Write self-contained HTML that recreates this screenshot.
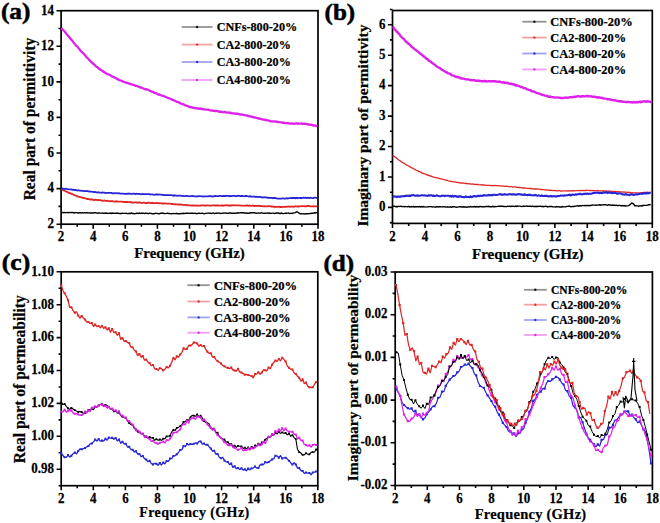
<!DOCTYPE html>
<html><head><meta charset="utf-8"><style>
html,body{margin:0;padding:0;background:#fff;}
svg{display:block;}
text{font-family:"Liberation Serif",serif;font-weight:bold;fill:#000;stroke:#000;stroke-width:0.22px;}
text.big{stroke-width:0.55px;}
</style></head><body>
<svg width="660" height="523" viewBox="0 0 660 523">
<rect width="660" height="523" fill="#fff"/>
<rect x="61.1" y="10.7" width="256.9" height="213.5" fill="none" stroke="#000" stroke-width="1.7"/>
<path d="M61.1 224.2v4.6M93.2 224.2v4.6M125.3 224.2v4.6M157.4 224.2v4.6M189.5 224.2v4.6M221.7 224.2v4.6M253.8 224.2v4.6M285.9 224.2v4.6M318 224.2v4.6M77.2 224.2v2.6M109.3 224.2v2.6M141.4 224.2v2.6M173.5 224.2v2.6M205.6 224.2v2.6M237.7 224.2v2.6M269.8 224.2v2.6M301.9 224.2v2.6M61.1 224.2h-4.6M61.1 188.6h-4.6M61.1 153h-4.6M61.1 117.4h-4.6M61.1 81.9h-4.6M61.1 46.3h-4.6M61.1 10.7h-4.6M61.1 206.4h-2.6M61.1 170.8h-2.6M61.1 135.2h-2.6M61.1 99.7h-2.6M61.1 64.1h-2.6M61.1 28.5h-2.6" stroke="#000" stroke-width="1.6" fill="none"/>
<text transform="translate(53.9,228) scale(1,1.15)" font-size="13" text-anchor="end" >2</text>
<text transform="translate(53.9,192.4) scale(1,1.15)" font-size="13" text-anchor="end" >4</text>
<text transform="translate(53.9,156.8) scale(1,1.15)" font-size="13" text-anchor="end" >6</text>
<text transform="translate(53.9,121.2) scale(1,1.15)" font-size="13" text-anchor="end" >8</text>
<text transform="translate(53.9,85.7) scale(1,1.15)" font-size="13" text-anchor="end" >10</text>
<text transform="translate(53.9,50.1) scale(1,1.15)" font-size="13" text-anchor="end" >12</text>
<text transform="translate(53.9,14.5) scale(1,1.15)" font-size="13" text-anchor="end" >14</text>
<text transform="translate(61.1,241) scale(1,1.15)" font-size="13" text-anchor="middle" >2</text>
<text transform="translate(93.2,241) scale(1,1.15)" font-size="13" text-anchor="middle" >4</text>
<text transform="translate(125.3,241) scale(1,1.15)" font-size="13" text-anchor="middle" >6</text>
<text transform="translate(157.4,241) scale(1,1.15)" font-size="13" text-anchor="middle" >8</text>
<text transform="translate(189.5,241) scale(1,1.15)" font-size="13" text-anchor="middle" >10</text>
<text transform="translate(221.7,241) scale(1,1.15)" font-size="13" text-anchor="middle" >12</text>
<text transform="translate(253.8,241) scale(1,1.15)" font-size="13" text-anchor="middle" >14</text>
<text transform="translate(285.9,241) scale(1,1.15)" font-size="13" text-anchor="middle" >16</text>
<text transform="translate(318,241) scale(1,1.15)" font-size="13" text-anchor="middle" >18</text>
<text transform="translate(189.5,258) scale(1,1.04)" font-size="15" text-anchor="middle" textLength="110.5" lengthAdjust="spacingAndGlyphs">Frequency (GHz)</text>
<text transform="translate(35.4,119.1) rotate(-90)" x="0" y="0" font-size="16" text-anchor="middle" textLength="162.5" lengthAdjust="spacingAndGlyphs">Real part of permittivity</text>
<text x="0.9" y="19.4" font-size="23.8" text-anchor="start" textLength="29.6" lengthAdjust="spacingAndGlyphs" class="big">(a)</text>
<path d="M61.4 212.5L62.4 212.4L63.4 212.7L64.4 212.4L65.4 212.7L66.4 212.6L67.4 212.4L68.4 212.7L69.4 212.4L70.4 212.6L71.4 212.4L72.4 212.5L73.4 212.7L74.4 212.9L75.4 212.5L76.4 212.6L77.4 212.8L78.4 213L79.4 212.8L80.4 212.7L81.4 213.1L82.4 212.6L83.4 213.1L84.4 212.7L85.4 212.7L86.4 212.7L87.4 212.8L88.4 213.1L89.4 212.7L90.4 213L91.4 213L92.4 212.9L93.4 213L94.4 212.7L95.4 212.8L96.4 212.9L97.4 213.2L98.4 213L99.4 213L100.4 213.1L101.4 213.1L102.4 213L103.4 213.3L104.4 213.3L105.4 213L106.4 213.2L107.4 213.2L108.4 213.4L109.4 213.3L110.4 213.1L111.4 213.5L112.4 213L113.4 213.2L114.4 213.4L115.4 213.1L116.4 213.3L117.4 213L118.4 213.4L119.4 213.5L120.4 213.4L121.4 213.5L122.4 213.2L123.4 213.4L124.4 213.4L125.4 213.4L126.4 213.3L127.4 213.6L128.4 213.6L129.4 213.3L130.4 213.5L131.4 213.1L132.4 213.5L133.4 213.5L134.4 213.7L135.4 213.6L136.4 213.3L137.4 213.3L138.4 213.5L139.4 213.1L140.4 213.4L141.4 213.2L142.4 213.2L143.4 213.2L144.4 213.6L145.4 213.2L146.4 213.3L147.4 213.4L148.4 213.7L149.4 213.2L150.4 213.4L151.4 213.5L152.4 213.7L153.4 213.7L154.4 213.7L155.4 213.3L156.4 213.4L157.4 213.4L158.4 213.7L159.4 213.8L160.4 213.3L161.4 213.3L162.4 213.3L163.4 213.3L164.4 213.5L165.4 213.6L166.4 213.4L167.4 213.2L168.4 213.5L169.4 213.4L170.4 213.6L171.4 213.8L172.4 213.6L173.4 213.5L174.4 213.6L175.4 213.6L176.4 213.3L177.4 213.8L178.4 213.7L179.4 213.7L180.4 213.7L181.4 213.5L182.4 213.5L183.4 213.3L184.4 213.6L185.4 213.3L186.4 213.3L187.4 213.3L188.4 213.3L189.4 213.4L190.4 213.2L191.4 213.2L192.4 213.3L193.4 213.3L194.4 213.4L195.4 213.2L196.4 213.7L197.4 213.6L198.4 213.3L199.4 213.3L200.4 213.4L201.4 213.4L202.4 213.2L203.4 213.6L204.4 213.7L205.4 213.4L206.4 213.4L207.4 213.1L208.4 213.1L209.4 213.3L210.4 213.2L211.4 213.5L212.4 213.1L213.4 213L214.4 213.6L215.4 213.3L216.4 213L217.4 213.3L218.4 212.9L219.4 213.2L220.4 213.5L221.4 213.4L222.4 213.3L223.4 213L224.4 213.1L225.4 212.9L226.4 213.3L227.4 213.1L228.4 213.3L229.4 213L230.4 212.9L231.4 213.2L232.4 213.3L233.4 213.2L234.4 213.2L235.4 213.2L236.4 213.1L237.4 212.8L238.4 213L239.4 212.9L240.4 212.7L241.4 212.7L242.4 212.8L243.4 212.8L244.4 213L245.4 213.2L246.4 212.9L247.4 213.2L248.4 213.2L249.4 213.2L250.4 212.8L251.4 212.7L252.4 212.7L253.4 212.7L254.4 212.7L255.4 213L256.4 213.2L257.4 213.1L258.4 212.9L259.4 213.1L260.4 213.2L261.4 212.7L262.4 213.1L263.4 213.3L264.4 213.2L265.4 213.2L266.4 213.1L267.4 212.9L268.4 213.3L269.4 213L270.4 213.3L271.4 213.4L272.4 213.1L273.4 213.1L274.4 213.5L275.4 213.3L276.4 213L277.4 213L278.4 213L279.4 213.5L280.4 213.5L281.4 213.1L282.4 213.5L283.4 213.6L284.4 213.4L285.4 213.2L286.4 213.3L287.4 213.1L288.4 213L289.4 213.6L290.4 213.4L291.4 213.2L292.4 213.4L293.4 212.9L294.4 212.9L295.4 212.6L296.4 212L297.4 212L298.4 212.6L299.4 213.3L300.4 213.9L301.4 213.8L302.4 213.9L303.4 213.7L304.4 214.1L305.4 213.7L306.4 213.7L307.4 213.7L308.4 213.8L309.4 213.4L310.4 213.6L311.4 213.3L312.4 213.2L313.4 213.1L314.4 212.8L315.4 213L316.4 212.8L317.4 212.6" stroke="#000000" stroke-width="1.4" fill="none"/>
<path d="M61.4 189.6L62.4 189.7L63.4 190.3L64.4 190.8L65.4 191.2L66.4 191.5L67.4 192.1L68.4 192.6L69.4 193.1L70.4 193.2L71.4 193.9L72.4 194.2L73.4 194.6L74.4 195.2L75.4 195.5L76.4 195.9L77.4 196.3L78.4 196.7L79.4 196.8L80.4 197.2L81.4 197.4L82.4 197.6L83.4 198L84.4 198.1L85.4 198.4L86.4 198.6L87.4 199L88.4 199L89.4 199.3L90.4 199.5L91.4 199.3L92.4 199.6L93.4 199.9L94.4 200L95.4 199.7L96.4 199.9L97.4 200.1L98.4 200L99.4 200.2L100.4 200.2L101.4 200.6L102.4 200.7L103.4 200.8L104.4 200.5L105.4 200.9L106.4 200.9L107.4 200.7L108.4 201.1L109.4 201.3L110.4 200.9L111.4 201.4L112.4 201.2L113.4 201.3L114.4 201.6L115.4 201.6L116.4 201.3L117.4 201.5L118.4 201.6L119.4 201.6L120.4 201.6L121.4 201.7L122.4 201.9L123.4 201.6L124.4 202L125.4 202L126.4 201.8L127.4 202L128.4 202.2L129.4 202.2L130.4 202L131.4 202.6L132.4 202.5L133.4 202.6L134.4 202.3L135.4 202.4L136.4 202.3L137.4 202.7L138.4 202.5L139.4 202.5L140.4 202.7L141.4 203L142.4 202.9L143.4 202.7L144.4 202.7L145.4 203.1L146.4 202.9L147.4 203L148.4 202.7L149.4 202.7L150.4 203.1L151.4 203L152.4 202.8L153.4 203.3L154.4 203.1L155.4 203.2L156.4 202.9L157.4 203.3L158.4 203L159.4 203.4L160.4 203.3L161.4 203.3L162.4 203.4L163.4 203.7L164.4 203.4L165.4 203.4L166.4 203.7L167.4 203.6L168.4 203.6L169.4 203.7L170.4 203.7L171.4 203.9L172.4 204L173.4 204.1L174.4 204.4L175.4 204.2L176.4 204.4L177.4 204.3L178.4 204.5L179.4 204.4L180.4 204.6L181.4 204.5L182.4 204.9L183.4 204.9L184.4 204.8L185.4 205L186.4 205.3L187.4 205L188.4 205.4L189.4 205.3L190.4 205.3L191.4 205.6L192.4 205.4L193.4 205.5L194.4 205.6L195.4 205.7L196.4 205.4L197.4 205.7L198.4 205.6L199.4 205.6L200.4 205.5L201.4 205.5L202.4 205.3L203.4 205.4L204.4 205.3L205.4 205.7L206.4 205.4L207.4 205.4L208.4 205.3L209.4 205.7L210.4 205.7L211.4 205.6L212.4 205.4L213.4 205.4L214.4 205.4L215.4 205.5L216.4 205.3L217.4 205.5L218.4 205.4L219.4 205.7L220.4 205.7L221.4 205.5L222.4 205.4L223.4 205.7L224.4 205.4L225.4 205.4L226.4 205.2L227.4 205.4L228.4 205.5L229.4 205.5L230.4 205.3L231.4 205.5L232.4 205.2L233.4 205.4L234.4 205.3L235.4 205.4L236.4 205.3L237.4 205.3L238.4 205.4L239.4 205.4L240.4 205.6L241.4 205.6L242.4 205.7L243.4 205.6L244.4 205.7L245.4 205.8L246.4 205.5L247.4 205.5L248.4 205.9L249.4 205.5L250.4 205.8L251.4 205.8L252.4 205.5L253.4 205.9L254.4 206L255.4 205.9L256.4 205.9L257.4 206L258.4 205.7L259.4 205.9L260.4 206L261.4 206.2L262.4 206.2L263.4 206.3L264.4 206.2L265.4 206.4L266.4 206.3L267.4 206.4L268.4 206.2L269.4 206.2L270.4 206.3L271.4 206.5L272.4 206.4L273.4 206.8L274.4 206.7L275.4 206.8L276.4 206.8L277.4 206.9L278.4 206.8L279.4 206.6L280.4 207L281.4 207L282.4 206.9L283.4 206.9L284.4 206.9L285.4 206.6L286.4 206.9L287.4 206.7L288.4 206.5L289.4 206.6L290.4 206.8L291.4 206.5L292.4 206.7L293.4 206.8L294.4 206.5L295.4 206.4L296.4 206.4L297.4 206.5L298.4 206.5L299.4 206.4L300.4 206.4L301.4 206.1L302.4 206.1L303.4 206.2L304.4 206.4L305.4 206.2L306.4 206.3L307.4 206L308.4 206L309.4 206.1L310.4 206.4L311.4 206.4L312.4 206.4L313.4 206.2L314.4 206.3L315.4 206.3L316.4 206.3L317.4 206.1" stroke="#e02424" stroke-width="1.8" fill="none"/>
<path d="M61.4 188.7L62.4 188.4L63.4 188.9L64.4 189L65.4 188.6L66.4 188.9L67.4 189.2L68.4 189.4L69.4 189.3L70.4 189.3L71.4 189.4L72.4 189.9L73.4 189.7L74.4 190L75.4 189.9L76.4 190.2L77.4 190.5L78.4 190.2L79.4 190.7L80.4 190.6L81.4 190.9L82.4 190.9L83.4 190.8L84.4 191.2L85.4 191.1L86.4 191L87.4 191.1L88.4 191.4L89.4 191.5L90.4 191.6L91.4 191.6L92.4 191.8L93.4 191.9L94.4 192.2L95.4 191.9L96.4 192.3L97.4 192.5L98.4 192.2L99.4 192.6L100.4 192.6L101.4 192.8L102.4 192.5L103.4 192.6L104.4 192.7L105.4 193.1L106.4 192.9L107.4 192.8L108.4 192.9L109.4 192.9L110.4 192.8L111.4 192.9L112.4 193.3L113.4 193.1L114.4 193.4L115.4 193.1L116.4 193.2L117.4 193.4L118.4 193.2L119.4 193.4L120.4 193.7L121.4 193.7L122.4 193.7L123.4 193.6L124.4 193.8L125.4 193.8L126.4 193.7L127.4 193.8L128.4 193.5L129.4 193.8L130.4 193.7L131.4 193.9L132.4 193.9L133.4 193.7L134.4 193.6L135.4 194.1L136.4 193.7L137.4 193.9L138.4 193.9L139.4 193.9L140.4 194.1L141.4 194.3L142.4 194L143.4 194.2L144.4 194.1L145.4 194.2L146.4 194.2L147.4 194.1L148.4 194.1L149.4 194.2L150.4 194.6L151.4 194.4L152.4 194.3L153.4 194.7L154.4 194.8L155.4 194.5L156.4 194.4L157.4 194.5L158.4 194.5L159.4 194.7L160.4 194.6L161.4 194.7L162.4 194.8L163.4 195L164.4 195.2L165.4 195.1L166.4 195L167.4 195.1L168.4 195.2L169.4 195.2L170.4 195.2L171.4 195.1L172.4 195.3L173.4 195.7L174.4 195.3L175.4 195.6L176.4 195.7L177.4 195.9L178.4 195.6L179.4 195.7L180.4 195.7L181.4 195.8L182.4 195.9L183.4 196.2L184.4 196.1L185.4 196.2L186.4 195.8L187.4 195.8L188.4 196.2L189.4 196.3L190.4 196.1L191.4 196.2L192.4 195.9L193.4 196.1L194.4 196.4L195.4 196.4L196.4 196.4L197.4 196.5L198.4 196.1L199.4 196.1L200.4 196.1L201.4 196.3L202.4 196.4L203.4 196.5L204.4 196.4L205.4 196.4L206.4 196.4L207.4 196.3L208.4 196.3L209.4 196L210.4 196.4L211.4 196.1L212.4 196.5L213.4 196.3L214.4 196.1L215.4 196L216.4 196.1L217.4 196.2L218.4 196.2L219.4 195.9L220.4 195.9L221.4 196.1L222.4 196.1L223.4 196L224.4 195.9L225.4 196L226.4 195.7L227.4 195.9L228.4 195.9L229.4 196.2L230.4 196L231.4 196.1L232.4 195.9L233.4 195.8L234.4 195.8L235.4 196.1L236.4 196L237.4 195.8L238.4 195.7L239.4 195.9L240.4 196.1L241.4 196L242.4 195.9L243.4 196.2L244.4 196.3L245.4 196L246.4 196L247.4 196.2L248.4 196.3L249.4 196.5L250.4 196.3L251.4 196.7L252.4 196.7L253.4 196.6L254.4 196.5L255.4 197L256.4 196.7L257.4 197L258.4 196.8L259.4 196.9L260.4 197.2L261.4 197.1L262.4 197.5L263.4 197.3L264.4 197.2L265.4 197.3L266.4 197.5L267.4 197.7L268.4 198L269.4 197.6L270.4 197.8L271.4 197.8L272.4 198.3L273.4 198L274.4 198L275.4 198L276.4 198.3L277.4 198.6L278.4 198.6L279.4 198.6L280.4 198.7L281.4 198.7L282.4 198.4L283.4 198.3L284.4 198.7L285.4 198.6L286.4 198.2L287.4 198.5L288.4 198.3L289.4 198.2L290.4 198.2L291.4 198L292.4 197.9L293.4 198L294.4 198L295.4 198.2L296.4 197.8L297.4 198.2L298.4 197.8L299.4 197.8L300.4 198L301.4 198L302.4 197.8L303.4 197.6L304.4 197.8L305.4 197.7L306.4 198L307.4 197.7L308.4 197.8L309.4 198.1L310.4 197.6L311.4 197.9L312.4 198.1L313.4 198.1L314.4 197.7L315.4 197.7L316.4 197.8L317.4 198.2" stroke="#2626d6" stroke-width="1.8" fill="none"/>
<path d="M61.4 27.9L62.4 29.2L63.4 30.3L64.4 31.2L65.4 32.4L66.4 33.9L67.4 35L68.4 36L69.4 37.5L70.4 38.5L71.4 39.7L72.4 40.8L73.4 42.4L74.4 43.6L75.4 44.7L76.4 46L77.4 46.6L78.4 47.9L79.4 49.1L80.4 50.5L81.4 51.6L82.4 52.4L83.4 53.5L84.4 54.6L85.4 55.8L86.4 57.1L87.4 57.8L88.4 59.1L89.4 60.1L90.4 61.2L91.4 62.1L92.4 63L93.4 63.8L94.4 64.7L95.4 65.7L96.4 66.8L97.4 67.2L98.4 68.1L99.4 69.1L100.4 69.6L101.4 70.2L102.4 70.8L103.4 71.7L104.4 72.1L105.4 73L106.4 73.5L107.4 74.1L108.4 74.3L109.4 74.8L110.4 75.3L111.4 76L112.4 76.7L113.4 77L114.4 77.4L115.4 78L116.4 78.6L117.4 79.1L118.4 79.6L119.4 80.1L120.4 80.4L121.4 80.6L122.4 81.4L123.4 81.5L124.4 82L125.4 82.3L126.4 82.8L127.4 82.9L128.4 83.3L129.4 83.6L130.4 83.9L131.4 84.5L132.4 84.7L133.4 84.9L134.4 85.2L135.4 85.8L136.4 85.9L137.4 86.1L138.4 86.7L139.4 87L140.4 87.5L141.4 87.4L142.4 87.9L143.4 88.5L144.4 88.9L145.4 89.3L146.4 89.2L147.4 89.7L148.4 90L149.4 90.4L150.4 91.2L151.4 91.4L152.4 92L153.4 92.2L154.4 92.8L155.4 93L156.4 93.3L157.4 94L158.4 94.5L159.4 94.5L160.4 95.1L161.4 95.5L162.4 95.7L163.4 96.1L164.4 96.4L165.4 96.8L166.4 97.2L167.4 97.8L168.4 98.2L169.4 98.4L170.4 98.7L171.4 99.2L172.4 99.8L173.4 100L174.4 100.5L175.4 100.9L176.4 101.7L177.4 102L178.4 102.2L179.4 102.7L180.4 103.3L181.4 103.8L182.4 104.2L183.4 104.4L184.4 104.8L185.4 105.5L186.4 105.7L187.4 106L188.4 106.3L189.4 107L190.4 106.9L191.4 107.3L192.4 107.5L193.4 107.7L194.4 108.2L195.4 108.4L196.4 108.2L197.4 108.3L198.4 108.7L199.4 108.5L200.4 108.5L201.4 109.1L202.4 109L203.4 109.3L204.4 109.3L205.4 109.7L206.4 109.6L207.4 109.6L208.4 109.7L209.4 110.1L210.4 110.3L211.4 110.6L212.4 110.4L213.4 110.8L214.4 110.8L215.4 111L216.4 111L217.4 111.2L218.4 111.4L219.4 111.7L220.4 111.5L221.4 111.8L222.4 112.1L223.4 112.3L224.4 112L225.4 112.1L226.4 112.6L227.4 112.7L228.4 112.6L229.4 112.5L230.4 113.1L231.4 113L232.4 113.3L233.4 113.3L234.4 113.6L235.4 113.4L236.4 113.8L237.4 113.7L238.4 113.9L239.4 114.3L240.4 114.5L241.4 114.4L242.4 114.6L243.4 114.9L244.4 115.1L245.4 115.3L246.4 115.3L247.4 115.6L248.4 116.1L249.4 116.4L250.4 116.2L251.4 116.7L252.4 117L253.4 116.9L254.4 117.6L255.4 117.5L256.4 118L257.4 118.2L258.4 118.5L259.4 118.5L260.4 118.8L261.4 119.1L262.4 119.3L263.4 119.6L264.4 119.7L265.4 120L266.4 120L267.4 120.5L268.4 120.6L269.4 120.7L270.4 121.1L271.4 121.3L272.4 121.3L273.4 121.3L274.4 121.6L275.4 121.5L276.4 121.7L277.4 122L278.4 121.9L279.4 122.2L280.4 122.4L281.4 122.3L282.4 122.7L283.4 122.5L284.4 123L285.4 123.1L286.4 123.1L287.4 123L288.4 123.3L289.4 123.3L290.4 123.7L291.4 123.3L292.4 123.7L293.4 123.8L294.4 123.6L295.4 123.7L296.4 123.3L297.4 123.7L298.4 123.5L299.4 123.7L300.4 123.7L301.4 123.4L302.4 123.8L303.4 123.9L304.4 123.6L305.4 123.9L306.4 124.2L307.4 124.1L308.4 124.6L309.4 124.5L310.4 124.9L311.4 124.7L312.4 125.1L313.4 125.5L314.4 125.4L315.4 125.6L316.4 126L317.4 126.1" stroke="#de20ea" stroke-width="2.3" fill="none"/>
<path d="M181.7 27H212.5" stroke="#000000" stroke-width="1.8" opacity="0.42"/>
<circle cx="197.1" cy="27" r="1.2" fill="#000000" opacity="0.9"/>
<text x="216.7" y="31.4" font-size="12.2" text-anchor="start" textLength="80.5" lengthAdjust="spacingAndGlyphs">CNFs-800-20%</text>
<path d="M181.7 44.6H212.5" stroke="#e02424" stroke-width="1.8" opacity="0.42"/>
<circle cx="197.1" cy="44.6" r="1.2" fill="#e02424" opacity="0.9"/>
<text x="216.7" y="49" font-size="12.2" text-anchor="start" textLength="74.1" lengthAdjust="spacingAndGlyphs">CA2-800-20%</text>
<path d="M181.7 62H212.5" stroke="#2626d6" stroke-width="1.8" opacity="0.42"/>
<circle cx="197.1" cy="62" r="1.2" fill="#2626d6" opacity="0.9"/>
<text x="216.7" y="66.4" font-size="12.2" text-anchor="start" textLength="74.1" lengthAdjust="spacingAndGlyphs">CA3-800-20%</text>
<path d="M181.7 80H212.5" stroke="#de20ea" stroke-width="1.8" opacity="0.42"/>
<circle cx="197.1" cy="80" r="1.2" fill="#de20ea" opacity="0.9"/>
<text x="216.7" y="84.4" font-size="12.2" text-anchor="start" textLength="74.1" lengthAdjust="spacingAndGlyphs">CA4-800-20%</text>
<rect x="392.5" y="10.5" width="259.8" height="212.9" fill="none" stroke="#000" stroke-width="1.7"/>
<path d="M392.5 223.4v4.6M425 223.4v4.6M457.4 223.4v4.6M489.9 223.4v4.6M522.4 223.4v4.6M554.9 223.4v4.6M587.3 223.4v4.6M619.8 223.4v4.6M652.3 223.4v4.6M408.7 223.4v2.6M441.2 223.4v2.6M473.7 223.4v2.6M506.2 223.4v2.6M538.6 223.4v2.6M571.1 223.4v2.6M603.6 223.4v2.6M636.1 223.4v2.6M392.5 207.4h-4.6M392.5 177h-4.6M392.5 146.5h-4.6M392.5 116.1h-4.6M392.5 85.6h-4.6M392.5 55.2h-4.6M392.5 24.7h-4.6M392.5 222.6h-2.6M392.5 192.2h-2.6M392.5 161.7h-2.6M392.5 131.3h-2.6M392.5 100.8h-2.6M392.5 70.4h-2.6M392.5 39.9h-2.6M392.5 9.5h-2.6" stroke="#000" stroke-width="1.6" fill="none"/>
<text transform="translate(385.4,211.2) scale(1,1.15)" font-size="13" text-anchor="end" >0</text>
<text transform="translate(385.4,180.8) scale(1,1.15)" font-size="13" text-anchor="end" >1</text>
<text transform="translate(385.4,150.3) scale(1,1.15)" font-size="13" text-anchor="end" >2</text>
<text transform="translate(385.4,119.9) scale(1,1.15)" font-size="13" text-anchor="end" >3</text>
<text transform="translate(385.4,89.4) scale(1,1.15)" font-size="13" text-anchor="end" >4</text>
<text transform="translate(385.4,59) scale(1,1.15)" font-size="13" text-anchor="end" >5</text>
<text transform="translate(385.4,28.5) scale(1,1.15)" font-size="13" text-anchor="end" >6</text>
<text transform="translate(392.5,240.6) scale(1,1.15)" font-size="13" text-anchor="middle" >2</text>
<text transform="translate(425,240.6) scale(1,1.15)" font-size="13" text-anchor="middle" >4</text>
<text transform="translate(457.4,240.6) scale(1,1.15)" font-size="13" text-anchor="middle" >6</text>
<text transform="translate(489.9,240.6) scale(1,1.15)" font-size="13" text-anchor="middle" >8</text>
<text transform="translate(522.4,240.6) scale(1,1.15)" font-size="13" text-anchor="middle" >10</text>
<text transform="translate(554.9,240.6) scale(1,1.15)" font-size="13" text-anchor="middle" >12</text>
<text transform="translate(587.3,240.6) scale(1,1.15)" font-size="13" text-anchor="middle" >14</text>
<text transform="translate(619.8,240.6) scale(1,1.15)" font-size="13" text-anchor="middle" >16</text>
<text transform="translate(652.3,240.6) scale(1,1.15)" font-size="13" text-anchor="middle" >18</text>
<text transform="translate(527.8,259.4) scale(1,1.04)" font-size="15" text-anchor="middle" textLength="111.5" lengthAdjust="spacingAndGlyphs">Frequency (GHz)</text>
<text transform="translate(367.6,125.6) rotate(-90)" x="0" y="0" font-size="15.5" text-anchor="middle" textLength="202" lengthAdjust="spacingAndGlyphs">Imaginary part of permittivity</text>
<text x="324.6" y="20" font-size="23.8" text-anchor="start" textLength="30.6" lengthAdjust="spacingAndGlyphs" class="big">(b)</text>
<path d="M392.7 206.1L393.7 206.2L394.7 206.2L395.7 206.7L396.7 206.5L397.7 206.7L398.7 206.2L399.7 206.6L400.7 206.2L401.7 206.5L402.7 206.6L403.7 206.4L404.7 206.7L405.7 206.6L406.7 206.6L407.7 206.8L408.7 206.3L409.7 206.9L410.7 206.7L411.7 206.5L412.7 206.8L413.7 206.5L414.7 206.9L415.7 206.7L416.7 206.6L417.7 206.8L418.7 206.7L419.7 206.5L420.7 206.9L421.7 206.5L422.7 206.9L423.7 206.6L424.7 206.9L425.7 207.1L426.7 206.9L427.7 206.9L428.7 206.7L429.7 206.6L430.7 206.6L431.7 206.7L432.7 207L433.7 206.9L434.7 206.9L435.7 207.2L436.7 206.7L437.7 206.8L438.7 207L439.7 206.7L440.7 206.7L441.7 206.9L442.7 206.7L443.7 206.9L444.7 206.8L445.7 207L446.7 207.1L447.7 206.8L448.7 207.1L449.7 207L450.7 206.8L451.7 207.3L452.7 206.8L453.7 206.8L454.7 206.7L455.7 207.1L456.7 207.2L457.7 207.1L458.7 206.9L459.7 206.8L460.7 206.7L461.7 207L462.7 207L463.7 206.8L464.7 207L465.7 206.9L466.7 207.2L467.7 207L468.7 206.7L469.7 207.1L470.7 206.6L471.7 206.9L472.7 206.8L473.7 206.7L474.7 206.5L475.7 207L476.7 206.5L477.7 206.8L478.7 207L479.7 206.5L480.7 206.5L481.7 206.8L482.7 206.7L483.7 206.8L484.7 206.9L485.7 206.5L486.7 206.5L487.7 206.5L488.7 206.3L489.7 206.8L490.7 206.7L491.7 206.7L492.7 206.3L493.7 206.7L494.7 206.7L495.7 206.5L496.7 206.6L497.7 206.4L498.7 206.3L499.7 206.2L500.7 206.3L501.7 206.1L502.7 206.3L503.7 206.5L504.7 206.5L505.7 206.6L506.7 206.5L507.7 206.2L508.7 206.4L509.7 206.3L510.7 206.5L511.7 206.3L512.7 206.1L513.7 206.4L514.7 206.5L515.7 206.1L516.7 206.5L517.7 206L518.7 206.1L519.7 206.1L520.7 206.4L521.7 206.5L522.7 206.4L523.7 206.1L524.7 206.4L525.7 206.1L526.7 206L527.7 206.4L528.7 206.3L529.7 206.3L530.7 206.3L531.7 206.5L532.7 206.2L533.7 206.5L534.7 206.4L535.7 206.5L536.7 206.3L537.7 206.5L538.7 206.4L539.7 206.3L540.7 206.3L541.7 206.6L542.7 206.3L543.7 206.8L544.7 206.4L545.7 206.3L546.7 206.4L547.7 206.9L548.7 206.6L549.7 206.5L550.7 206.5L551.7 206.5L552.7 206.9L553.7 206.9L554.7 206.9L555.7 207L556.7 206.6L557.7 206.9L558.7 206.7L559.7 207L560.7 207L561.7 207L562.7 206.5L563.7 206.9L564.7 206.9L565.7 206.9L566.7 206.4L567.7 206.4L568.7 206.3L569.7 206.2L570.7 206.7L571.7 206.6L572.7 206.4L573.7 206.5L574.7 206.3L575.7 206.1L576.7 205.9L577.7 205.8L578.7 206.2L579.7 205.8L580.7 205.8L581.7 205.8L582.7 205.5L583.7 205.6L584.7 205.5L585.7 205.7L586.7 205.5L587.7 205.4L588.7 205.7L589.7 205.4L590.7 205.5L591.7 205.3L592.7 204.9L593.7 205.1L594.7 205.1L595.7 205.3L596.7 205L597.7 205.1L598.7 205L599.7 204.8L600.7 205.2L601.7 204.7L602.7 205.1L603.7 204.7L604.7 204.6L605.7 204.7L606.7 205.1L607.7 205.2L608.7 204.7L609.7 205L610.7 205L611.7 205.3L612.7 205L613.7 205.2L614.7 205.2L615.7 205.5L616.7 205.2L617.7 205.7L618.7 205.4L619.7 205.4L620.7 205.7L621.7 205.7L622.7 205.5L623.7 205.8L624.7 205.5L625.7 206L626.7 205.9L627.7 205.9L628.7 205.6L629.7 204.9L630.7 204.1L631.7 203.1L632.7 203.4L633.7 204.1L634.7 205.8L635.7 205.7L636.7 205.9L637.7 205.9L638.7 206.2L639.7 205.9L640.7 205.8L641.7 206L642.7 205.5L643.7 205.5L644.7 205.4L645.7 205.4L646.7 205.3L647.7 205.1L648.7 204.8L649.7 204.7L650.7 204.5" stroke="#000000" stroke-width="1.4" fill="none"/>
<path d="M392.7 155.4L393.7 156.1L394.7 156.8L395.7 157.4L396.7 158.3L397.7 159.3L398.7 160L399.7 160.5L400.7 161.3L401.7 162.1L402.7 162.5L403.7 163.1L404.7 163.7L405.7 164.5L406.7 165.2L407.7 165.5L408.7 166L409.7 166.6L410.7 167.2L411.7 167.8L412.7 168.2L413.7 168.8L414.7 169.2L415.7 170L416.7 170.4L417.7 170.7L418.7 171.5L419.7 171.6L420.7 172.1L421.7 172.8L422.7 173.2L423.7 173.6L424.7 173.9L425.7 174.2L426.7 174.8L427.7 175L428.7 175.4L429.7 175.8L430.7 176L431.7 176.4L432.7 176.9L433.7 177.1L434.7 177.3L435.7 177.6L436.7 177.8L437.7 177.9L438.7 178.3L439.7 178.5L440.7 178.8L441.7 179.1L442.7 179.2L443.7 179.5L444.7 179.8L445.7 180L446.7 180.1L447.7 180.6L448.7 180.9L449.7 181.1L450.7 181.3L451.7 181.5L452.7 181.7L453.7 181.8L454.7 181.9L455.7 182.1L456.7 182.4L457.7 182.3L458.7 182.6L459.7 182.9L460.7 183L461.7 183.1L462.7 183L463.7 183.2L464.7 183.4L465.7 183.5L466.7 183.5L467.7 183.7L468.7 183.9L469.7 183.7L470.7 184L471.7 184.1L472.7 184L473.7 184.2L474.7 184.5L475.7 184.2L476.7 184.5L477.7 184.4L478.7 184.7L479.7 184.9L480.7 184.8L481.7 184.7L482.7 185L483.7 185L484.7 185.2L485.7 185.1L486.7 185.3L487.7 185.4L488.7 185.3L489.7 185.3L490.7 185.6L491.7 185.4L492.7 185.6L493.7 185.5L494.7 185.7L495.7 185.5L496.7 185.9L497.7 185.7L498.7 185.7L499.7 185.8L500.7 185.9L501.7 185.8L502.7 186L503.7 186.1L504.7 186.3L505.7 186.2L506.7 186.3L507.7 186.3L508.7 186.6L509.7 186.8L510.7 186.7L511.7 186.7L512.7 187L513.7 186.9L514.7 186.9L515.7 187L516.7 187.3L517.7 187.4L518.7 187.5L519.7 187.5L520.7 187.6L521.7 187.6L522.7 188L523.7 187.8L524.7 188L525.7 188.2L526.7 188.3L527.7 188.3L528.7 188.3L529.7 188.5L530.7 188.4L531.7 188.8L532.7 188.7L533.7 189L534.7 188.8L535.7 189L536.7 189L537.7 189.2L538.7 189.2L539.7 189.2L540.7 189.6L541.7 189.5L542.7 189.6L543.7 189.7L544.7 189.8L545.7 189.9L546.7 190L547.7 190.1L548.7 190.1L549.7 190.4L550.7 190.5L551.7 190.2L552.7 190.6L553.7 190.7L554.7 190.7L555.7 190.5L556.7 190.9L557.7 190.8L558.7 190.6L559.7 190.7L560.7 191.1L561.7 191L562.7 190.8L563.7 190.8L564.7 190.8L565.7 190.8L566.7 191L567.7 190.8L568.7 190.7L569.7 191L570.7 190.9L571.7 190.6L572.7 190.9L573.7 190.7L574.7 190.8L575.7 190.7L576.7 190.7L577.7 190.7L578.7 190.7L579.7 190.4L580.7 190.6L581.7 190.5L582.7 190.6L583.7 190.5L584.7 190.7L585.7 190.5L586.7 190.4L587.7 190.4L588.7 190.4L589.7 190.6L590.7 190.4L591.7 190.6L592.7 190.5L593.7 190.6L594.7 190.7L595.7 190.7L596.7 190.9L597.7 190.5L598.7 190.9L599.7 190.8L600.7 190.9L601.7 190.9L602.7 191L603.7 190.9L604.7 190.9L605.7 191.2L606.7 190.9L607.7 191.2L608.7 191.2L609.7 191L610.7 191.3L611.7 191.4L612.7 191.5L613.7 191.4L614.7 191.7L615.7 191.5L616.7 191.6L617.7 191.8L618.7 191.5L619.7 191.9L620.7 191.9L621.7 191.8L622.7 192.1L623.7 192L624.7 192.1L625.7 192.2L626.7 192.4L627.7 192.2L628.7 192.4L629.7 192.5L630.7 192.7L631.7 192.9L632.7 192.7L633.7 193L634.7 192.9L635.7 192.9L636.7 192.9L637.7 193L638.7 193.1L639.7 192.9L640.7 192.9L641.7 192.7L642.7 192.6L643.7 192.5L644.7 192.5L645.7 192.5L646.7 192.5L647.7 192.1L648.7 192.3L649.7 192.3L650.7 192.1" stroke="#e02424" stroke-width="1.3" fill="none"/>
<path d="M392.7 196.5L393.7 196.7L394.7 196.4L395.7 196.5L396.7 197L397.7 196.6L398.7 196.6L399.7 196.6L400.7 196.6L401.7 196.3L402.7 196.2L403.7 196.1L404.7 196.1L405.7 195.9L406.7 195.9L407.7 195.5L408.7 195.8L409.7 195.6L410.7 195.8L411.7 195.2L412.7 195.3L413.7 195.1L414.7 195.7L415.7 195.8L416.7 195.6L417.7 195.4L418.7 195.7L419.7 195.7L420.7 195.5L421.7 195.3L422.7 195.3L423.7 195.5L424.7 195.4L425.7 195.5L426.7 195.7L427.7 195.9L428.7 195.2L429.7 195.6L430.7 195.2L431.7 195.3L432.7 195.9L433.7 195.7L434.7 196L435.7 195.7L436.7 195.3L437.7 195.7L438.7 195.9L439.7 196.2L440.7 196.2L441.7 195.9L442.7 195.8L443.7 195.6L444.7 196.1L445.7 195.8L446.7 195.8L447.7 195.7L448.7 195.7L449.7 196.3L450.7 195.9L451.7 196.6L452.7 195.9L453.7 196.6L454.7 196.1L455.7 196.1L456.7 196.7L457.7 196.4L458.7 196.8L459.7 196.4L460.7 196.4L461.7 197L462.7 197L463.7 197.1L464.7 197.1L465.7 196.5L466.7 197L467.7 197L468.7 196.8L469.7 197.1L470.7 196.5L471.7 197L472.7 196.7L473.7 196.1L474.7 196L475.7 196.4L476.7 196.5L477.7 195.8L478.7 195.9L479.7 196.1L480.7 195.6L481.7 196L482.7 195.7L483.7 195.2L484.7 195.4L485.7 195.5L486.7 195.3L487.7 195.5L488.7 195L489.7 195.4L490.7 195L491.7 195.1L492.7 195.1L493.7 194.8L494.7 194.7L495.7 195L496.7 195L497.7 194.8L498.7 194.6L499.7 194.3L500.7 194.1L501.7 194.8L502.7 194.5L503.7 194.6L504.7 194.2L505.7 194.4L506.7 194.7L507.7 194.5L508.7 194.4L509.7 194.1L510.7 194.2L511.7 194.6L512.7 194.2L513.7 194.5L514.7 194.4L515.7 194.7L516.7 194.6L517.7 194.2L518.7 194L519.7 194.3L520.7 194.4L521.7 194.6L522.7 194.8L523.7 194.9L524.7 194.3L525.7 194.9L526.7 195L527.7 195.1L528.7 194.9L529.7 194.7L530.7 195.2L531.7 195.3L532.7 195.3L533.7 195.5L534.7 195.1L535.7 195L536.7 195.5L537.7 195.7L538.7 195.3L539.7 195.8L540.7 196L541.7 195.5L542.7 195.9L543.7 196L544.7 195.9L545.7 195.8L546.7 195.9L547.7 196.3L548.7 196.4L549.7 196.2L550.7 195.9L551.7 196.5L552.7 196.4L553.7 196L554.7 196.2L555.7 196.4L556.7 196.4L557.7 196.1L558.7 196L559.7 196L560.7 195.6L561.7 195.5L562.7 195.5L563.7 195.8L564.7 195.4L565.7 195.5L566.7 195.3L567.7 195.3L568.7 194.9L569.7 194.7L570.7 195.4L571.7 194.8L572.7 194.5L573.7 194.8L574.7 194.9L575.7 194.3L576.7 194.6L577.7 194.3L578.7 194.3L579.7 193.9L580.7 193.8L581.7 194.5L582.7 194.3L583.7 193.9L584.7 193.9L585.7 193.6L586.7 194L587.7 193.6L588.7 193.9L589.7 193.7L590.7 193.7L591.7 193.7L592.7 193.1L593.7 192.8L594.7 192.9L595.7 192.8L596.7 192.7L597.7 192.6L598.7 192.9L599.7 193.1L600.7 192.8L601.7 193.1L602.7 193L603.7 192.3L604.7 192.7L605.7 192.5L606.7 192.3L607.7 193L608.7 192.4L609.7 192.7L610.7 192.8L611.7 193.1L612.7 193L613.7 192.8L614.7 193L615.7 192.8L616.7 193.6L617.7 193.8L618.7 193.3L619.7 193.3L620.7 193.6L621.7 193.8L622.7 194.4L623.7 194.5L624.7 194.6L625.7 194L626.7 194.7L627.7 194.7L628.7 194.7L629.7 195L630.7 194.3L631.7 194.4L632.7 194.8L633.7 195L634.7 194.7L635.7 194.3L636.7 194.5L637.7 194.5L638.7 193.9L639.7 194L640.7 193.8L641.7 193.6L642.7 193.8L643.7 193.4L644.7 193.4L645.7 193.2L646.7 193.5L647.7 192.9L648.7 193.4L649.7 192.9L650.7 192.7" stroke="#2626d6" stroke-width="2.1" fill="none"/>
<path d="M392.6 27L393.6 27.6L394.6 29.2L395.6 30.3L396.6 31.5L397.6 32.2L398.6 33.5L399.6 34.5L400.6 36.1L401.6 37.1L402.6 38L403.6 39L404.6 39.9L405.6 41.3L406.6 42L407.6 43.1L408.6 43.8L409.6 44.7L410.6 45.5L411.6 46.8L412.6 47.5L413.6 48.1L414.6 49.3L415.6 49.8L416.6 50.7L417.6 51.3L418.6 52.1L419.6 53.3L420.6 53.8L421.6 54.5L422.6 55.5L423.6 56.2L424.6 57.3L425.6 57.7L426.6 59L427.6 59.2L428.6 60.5L429.6 61.1L430.6 61.6L431.6 62.5L432.6 63.2L433.6 63.9L434.6 64.6L435.6 65.4L436.6 66.4L437.6 67.1L438.6 67.7L439.6 67.9L440.6 68.7L441.6 69.7L442.6 69.8L443.6 70.8L444.6 71.1L445.6 72.1L446.6 72.1L447.6 73.1L448.6 73.4L449.6 73.7L450.6 74.1L451.6 75.1L452.6 75.4L453.6 75.6L454.6 76.1L455.6 76.8L456.6 76.7L457.6 77.3L458.6 77.3L459.6 77.6L460.6 78.3L461.6 78.5L462.6 78.4L463.6 78.6L464.6 78.8L465.6 79.3L466.6 79.4L467.6 79.4L468.6 79.5L469.6 79.9L470.6 80.1L471.6 80.3L472.6 80.3L473.6 80.2L474.6 80.2L475.6 80.7L476.6 80.6L477.6 80.9L478.6 80.6L479.6 81.1L480.6 80.9L481.6 81.3L482.6 81.3L483.6 81.2L484.6 80.9L485.6 81.5L486.6 81.2L487.6 81.5L488.6 81.1L489.6 81.1L490.6 81.5L491.6 81.3L492.6 81.2L493.6 81.3L494.6 81.5L495.6 81.2L496.6 81.6L497.6 81.7L498.6 81.8L499.6 81.6L500.6 82.1L501.6 82.3L502.6 82.5L503.6 82.3L504.6 82.7L505.6 82.6L506.6 83L507.6 82.8L508.6 83.5L509.6 83.8L510.6 83.7L511.6 84L512.6 84.3L513.6 84.5L514.6 84.5L515.6 85.4L516.6 85.3L517.6 85.6L518.6 85.8L519.6 86.3L520.6 87L521.6 86.9L522.6 87.3L523.6 88L524.6 88.1L525.6 88.3L526.6 89.1L527.6 89.4L528.6 89.8L529.6 90.3L530.6 90.3L531.6 91.2L532.6 91.5L533.6 91.5L534.6 91.9L535.6 92.5L536.6 92.9L537.6 93.2L538.6 93.4L539.6 93.9L540.6 94.1L541.6 94.7L542.6 95.1L543.6 95L544.6 95.5L545.6 95.9L546.6 95.8L547.6 96.4L548.6 96.7L549.6 96.5L550.6 96.7L551.6 97.1L552.6 97.1L553.6 97.2L554.6 97.6L555.6 97.6L556.6 97.4L557.6 97.4L558.6 97.6L559.6 97.7L560.6 98L561.6 97.9L562.6 98L563.6 97.9L564.6 97.9L565.6 97.4L566.6 97.6L567.6 97.8L568.6 97.7L569.6 97.2L570.6 97.2L571.6 97.3L572.6 97L573.6 97L574.6 96.6L575.6 96.7L576.6 96.6L577.6 96.2L578.6 96.2L579.6 96.6L580.6 96.4L581.6 96.5L582.6 96.2L583.6 96.3L584.6 96.4L585.6 96.4L586.6 95.9L587.6 96.3L588.6 96.1L589.6 96.4L590.6 96.3L591.6 96.5L592.6 96.9L593.6 96.8L594.6 96.7L595.6 97L596.6 97.1L597.6 97.6L598.6 97.3L599.6 97.5L600.6 97.9L601.6 97.8L602.6 98.2L603.6 98.6L604.6 98.6L605.6 98.6L606.6 98.9L607.6 99.2L608.6 99.1L609.6 99.3L610.6 99.5L611.6 99.8L612.6 100.1L613.6 100.2L614.6 100.3L615.6 100.4L616.6 100.8L617.6 101.1L618.6 101.2L619.6 101.3L620.6 101.5L621.6 101.3L622.6 101.7L623.6 101.7L624.6 101.9L625.6 102L626.6 102L627.6 102L628.6 102L629.6 102.1L630.6 102.3L631.6 102.2L632.6 102.4L633.6 102L634.6 102.2L635.6 102.5L636.6 102L637.6 102.2L638.6 102L639.6 101.8L640.6 102.1L641.6 101.6L642.6 101.8L643.6 101.4L644.6 101.3L645.6 101.8L646.6 101.5L647.6 101.3L648.6 101.5L649.6 101.6L650.6 101.9L651.6 101.6" stroke="#de20ea" stroke-width="2.4" fill="none"/>
<path d="M522.3 21.7H546.5" stroke="#000000" stroke-width="1.8" opacity="0.42"/>
<circle cx="534.4" cy="21.7" r="1.2" fill="#000000" opacity="0.9"/>
<text x="550.3" y="26.1" font-size="12.4" text-anchor="start" textLength="82.3" lengthAdjust="spacingAndGlyphs">CNFs-800-20%</text>
<path d="M522.3 37.6H546.5" stroke="#e02424" stroke-width="1.8" opacity="0.42"/>
<circle cx="534.4" cy="37.6" r="1.2" fill="#e02424" opacity="0.9"/>
<text x="550.3" y="42" font-size="12.4" text-anchor="start" textLength="75.8" lengthAdjust="spacingAndGlyphs">CA2-800-20%</text>
<path d="M522.3 53.5H546.5" stroke="#2626d6" stroke-width="1.8" opacity="0.42"/>
<circle cx="534.4" cy="53.5" r="1.2" fill="#2626d6" opacity="0.9"/>
<text x="550.3" y="57.9" font-size="12.4" text-anchor="start" textLength="75.8" lengthAdjust="spacingAndGlyphs">CA3-800-20%</text>
<path d="M522.3 69.4H546.5" stroke="#de20ea" stroke-width="1.8" opacity="0.42"/>
<circle cx="534.4" cy="69.4" r="1.2" fill="#de20ea" opacity="0.9"/>
<text x="550.3" y="73.8" font-size="12.4" text-anchor="start" textLength="75.8" lengthAdjust="spacingAndGlyphs">CA4-800-20%</text>
<rect x="61.2" y="271.8" width="256.6" height="213.9" fill="none" stroke="#000" stroke-width="1.7"/>
<path d="M61.2 485.7v4.6M93.3 485.7v4.6M125.4 485.7v4.6M157.4 485.7v4.6M189.5 485.7v4.6M221.6 485.7v4.6M253.7 485.7v4.6M285.7 485.7v4.6M317.8 485.7v4.6M77.2 485.7v2.6M109.3 485.7v2.6M141.4 485.7v2.6M173.5 485.7v2.6M205.5 485.7v2.6M237.6 485.7v2.6M269.7 485.7v2.6M301.8 485.7v2.6M61.2 469.2h-4.6M61.2 436.3h-4.6M61.2 403.4h-4.6M61.2 370.5h-4.6M61.2 337.6h-4.6M61.2 304.7h-4.6M61.2 271.8h-4.6M61.2 485.7h-2.6M61.2 452.8h-2.6M61.2 419.9h-2.6M61.2 387h-2.6M61.2 354.1h-2.6M61.2 321.2h-2.6M61.2 288.3h-2.6" stroke="#000" stroke-width="1.6" fill="none"/>
<text transform="translate(54.1,473) scale(1,1.15)" font-size="13" text-anchor="end" >0.98</text>
<text transform="translate(54.1,440.1) scale(1,1.15)" font-size="13" text-anchor="end" >1.00</text>
<text transform="translate(54.1,407.2) scale(1,1.15)" font-size="13" text-anchor="end" >1.02</text>
<text transform="translate(54.1,374.3) scale(1,1.15)" font-size="13" text-anchor="end" >1.04</text>
<text transform="translate(54.1,341.4) scale(1,1.15)" font-size="13" text-anchor="end" >1.06</text>
<text transform="translate(54.1,308.5) scale(1,1.15)" font-size="13" text-anchor="end" >1.08</text>
<text transform="translate(54.1,275.6) scale(1,1.15)" font-size="13" text-anchor="end" >1.10</text>
<text transform="translate(61.2,502.7) scale(1,1.15)" font-size="13" text-anchor="middle" >2</text>
<text transform="translate(93.3,502.7) scale(1,1.15)" font-size="13" text-anchor="middle" >4</text>
<text transform="translate(125.4,502.7) scale(1,1.15)" font-size="13" text-anchor="middle" >6</text>
<text transform="translate(157.4,502.7) scale(1,1.15)" font-size="13" text-anchor="middle" >8</text>
<text transform="translate(189.5,502.7) scale(1,1.15)" font-size="13" text-anchor="middle" >10</text>
<text transform="translate(221.6,502.7) scale(1,1.15)" font-size="13" text-anchor="middle" >12</text>
<text transform="translate(253.7,502.7) scale(1,1.15)" font-size="13" text-anchor="middle" >14</text>
<text transform="translate(285.7,502.7) scale(1,1.15)" font-size="13" text-anchor="middle" >16</text>
<text transform="translate(317.8,502.7) scale(1,1.15)" font-size="13" text-anchor="middle" >18</text>
<text x="194.2" y="517.4" font-size="14" text-anchor="middle" textLength="110" lengthAdjust="spacing">Frequency (GHz)</text>
<text transform="translate(25.2,379.2) rotate(-90)" x="0" y="0" font-size="16" text-anchor="middle" textLength="168" lengthAdjust="spacingAndGlyphs">Real part of permeability</text>
<text x="1.8" y="270.3" font-size="23.8" text-anchor="start" textLength="28.4" lengthAdjust="spacingAndGlyphs" class="big">(c)</text>
<path d="M61.2 402.1L62.9 404.6L64.6 404L66.3 406.3L68 408.2L69.7 409.4L71.4 408L73.1 409L74.8 410.2L76.5 410.9L78.2 412L79.9 411.4L81.6 412L83.3 413.3L85 413L86.7 412.3L88.4 410.1L90.1 409.9L91.8 408.9L93.5 409.6L95.2 406.7L96.9 407.2L98.6 405.4L100.3 404.5L102 404.1L103.7 405.6L105.4 404.8L107.1 405.6L108.8 406.8L110.5 409.2L112.2 408.9L113.9 411.9L115.6 410.9L117.3 413.3L119 412.5L120.7 415.5L122.4 416.7L124.1 417.6L125.8 418.1L127.5 421.1L129.2 423L130.9 424.6L132.6 424.8L134.3 428.6L136 429.5L137.7 432.1L139.4 432.3L141.1 433.4L142.8 433.8L144.5 436L146.2 436.9L147.9 438.1L149.6 437L151.3 437.9L153 437.8L154.7 440.4L156.4 439.2L158.1 440.3L159.8 439.5L161.5 440.3L163.2 438.6L164.9 438.6L166.6 436.3L168.3 436.2L170 435.8L171.7 431.9L173.4 430L175.1 430.4L176.8 427.9L178.5 427.2L180.2 426.2L181.9 424.7L183.6 421.9L185.3 421.6L187 419.8L188.7 420.2L190.4 417.3L192.1 415.4L193.8 415.7L195.5 416.3L197.2 414.4L198.9 416.8L200.6 415.7L202.3 418L204 421L205.7 422.2L207.4 423.2L209.1 423.8L210.8 428.2L212.5 429.1L214.2 428.7L215.9 432.3L217.6 432.7L219.3 436.8L221 437.9L222.7 439L224.4 439.5L226.1 442L227.8 442.1L229.5 444.1L231.2 443.9L232.9 446.4L234.6 445.6L236.3 447.4L238 445.8L239.7 446.2L241.4 446.4L243.1 448.5L244.8 447.6L246.5 448.8L248.2 447.5L249.9 449.5L251.6 447L253.3 448.4L255 445.4L256.7 446.1L258.4 443.6L260.1 445.2L261.8 442.3L263.5 442.2L265.2 439.7L266.9 438.5L268.6 436.7L270.3 437.1L272 434.7L273.7 435.4L275.4 432.9L277.1 434L278.8 432L280.5 433.4L282.2 432.3L283.9 433.4L285.6 432.8L287.3 434.8L289 433.6L290.7 436.3L292.4 435.1L294.1 437.6L295.8 439.1L297.5 449.3L299.2 452.1L300.9 453L302.6 454.8L304.3 454.9L306 453.2L307.7 454.3L309.4 454.4L311.1 452.4L312.8 452.2L314.5 452L316.2 449.5" stroke="#000000" stroke-width="1.1" fill="none" stroke-linejoin="round"/>
<path d="M60.3 402.1h1.8M63.7 404h1.8M67.1 408.2h1.8M70.5 408h1.8M73.9 410.2h1.8M77.3 412h1.8M80.7 412h1.8M84.1 413h1.8M87.5 410.1h1.8M90.9 408.9h1.8M94.3 406.7h1.8M97.7 405.4h1.8M101.1 404.1h1.8M104.5 404.8h1.8M107.9 406.8h1.8M111.3 408.9h1.8M114.7 410.9h1.8M118.1 412.5h1.8M121.5 416.7h1.8M124.9 418.1h1.8M128.3 423h1.8M131.7 424.8h1.8M135.1 429.5h1.8M138.5 432.3h1.8M141.9 433.8h1.8M145.3 436.9h1.8M148.7 437h1.8M152.1 437.8h1.8M155.5 439.2h1.8M158.9 439.5h1.8M162.3 438.6h1.8M165.7 436.3h1.8M169.1 435.8h1.8M172.5 430h1.8M175.9 427.9h1.8M179.3 426.2h1.8M182.7 421.9h1.8M186.1 419.8h1.8M189.5 417.3h1.8M192.9 415.7h1.8M196.3 414.4h1.8M199.7 415.7h1.8M203.1 421h1.8M206.5 423.2h1.8M209.9 428.2h1.8M213.3 428.7h1.8M216.7 432.7h1.8M220.1 437.9h1.8M223.5 439.5h1.8M226.9 442.1h1.8M230.3 443.9h1.8M233.7 445.6h1.8M237.1 445.8h1.8M240.5 446.4h1.8M243.9 447.6h1.8M247.3 447.5h1.8M250.7 447h1.8M254.1 445.4h1.8M257.5 443.6h1.8M260.9 442.3h1.8M264.3 439.7h1.8M267.7 436.7h1.8M271.1 434.7h1.8M274.5 432.9h1.8M277.9 432h1.8M281.3 432.3h1.8M284.7 432.8h1.8M288.1 433.6h1.8M291.5 435.1h1.8M294.9 439.1h1.8M298.3 452.1h1.8M301.7 454.8h1.8M305.1 453.2h1.8M308.5 454.4h1.8M311.9 452.2h1.8M315.3 449.5h1.8" stroke="#000000" stroke-width="1.8" fill="none"/>
<path d="M61.2 411.7L62.9 411.8L64.6 409.8L66.3 412.2L68 410.6L69.7 410.8L71.4 410.5L73.1 413.2L74.8 413.7L76.5 413.7L78.2 414.4L79.9 415.2L81.6 415.1L83.3 414.5L85 411.6L86.7 413.1L88.4 410.5L90.1 411.5L91.8 407.8L93.5 407.2L95.2 406.4L96.9 407.3L98.6 406.1L100.3 404.2L102 404.8L103.7 406.6L105.4 405.8L107.1 408.2L108.8 406.8L110.5 408.8L112.2 408.6L113.9 410.7L115.6 410.3L117.3 412.6L119 411.3L120.7 415.1L122.4 415.4L124.1 417.3L125.8 417.4L127.5 420.9L129.2 421.2L130.9 423L132.6 424.8L134.3 426.9L136 430.3L137.7 429.9L139.4 431.7L141.1 434L142.8 433.6L144.5 437.5L146.2 435.9L147.9 437.8L149.6 438.9L151.3 441.5L153 441L154.7 442.9L156.4 443L158.1 444.4L159.8 442.7L161.5 442.3L163.2 441.6L164.9 443L166.6 440L168.3 440.6L170 438.6L171.7 436.5L173.4 432.8L175.1 432.3L176.8 432.3L178.5 430.7L180.2 429.4L181.9 425.2L183.6 424.2L185.3 424.7L187 420.6L188.7 423L190.4 419L192.1 417.8L193.8 418.2L195.5 419.1L197.2 416.5L198.9 416.9L200.6 417.4L202.3 420.8L204 419.6L205.7 420.9L207.4 424.3L209.1 426.2L210.8 427.4L212.5 430.3L214.2 429.2L215.9 433.2L217.6 435.2L219.3 435.8L221 437.9L222.7 440.1L224.4 442.3L226.1 443.6L227.8 445.1L229.5 445.8L231.2 444.5L232.9 447.4L234.6 447.8L236.3 449L238 449.7L239.7 449.3L241.4 447.8L243.1 450.6L244.8 450.1L246.5 450.7L248.2 448.5L249.9 450.1L251.6 448.1L253.3 449L255 447.2L256.7 446.1L258.4 444.4L260.1 445.8L261.8 444.4L263.5 441.3L265.2 443L266.9 440.4L268.6 436.9L270.3 437.1L272 434.1L273.7 435.2L275.4 431L277.1 432.6L278.8 429.4L280.5 431L282.2 428.2L283.9 430.8L285.6 428.6L287.3 430.9L289 431.7L290.7 431.8L292.4 431.8L294.1 434.2L295.8 434.6L297.5 438.9L299.2 437.8L300.9 440.4L302.6 440.6L304.3 444.5L306 445.1L307.7 446.2L309.4 445.2L311.1 447.1L312.8 445.1L314.5 444.2L316.2 444.9" stroke="#de20ea" stroke-width="1.3" fill="none" stroke-linejoin="round"/>
<path d="M60.2 411.7h2M63.6 409.8h2M67 410.6h2M70.4 410.5h2M73.8 413.7h2M77.2 414.4h2M80.6 415.1h2M84 411.6h2M87.4 410.5h2M90.8 407.8h2M94.2 406.4h2M97.6 406.1h2M101 404.8h2M104.4 405.8h2M107.8 406.8h2M111.2 408.6h2M114.6 410.3h2M118 411.3h2M121.4 415.4h2M124.8 417.4h2M128.2 421.2h2M131.6 424.8h2M135 430.3h2M138.4 431.7h2M141.8 433.6h2M145.2 435.9h2M148.6 438.9h2M152 441h2M155.4 443h2M158.8 442.7h2M162.2 441.6h2M165.6 440h2M169 438.6h2M172.4 432.8h2M175.8 432.3h2M179.2 429.4h2M182.6 424.2h2M186 420.6h2M189.4 419h2M192.8 418.2h2M196.2 416.5h2M199.6 417.4h2M203 419.6h2M206.4 424.3h2M209.8 427.4h2M213.2 429.2h2M216.6 435.2h2M220 437.9h2M223.4 442.3h2M226.8 445.1h2M230.2 444.5h2M233.6 447.8h2M237 449.7h2M240.4 447.8h2M243.8 450.1h2M247.2 448.5h2M250.6 448.1h2M254 447.2h2M257.4 444.4h2M260.8 444.4h2M264.2 443h2M267.6 436.9h2M271 434.1h2M274.4 431h2M277.8 429.4h2M281.2 428.2h2M284.6 428.6h2M288 431.7h2M291.4 431.8h2M294.8 434.6h2M298.2 437.8h2M301.6 440.6h2M305 445.1h2M308.4 445.2h2M311.8 445.1h2M315.2 444.9h2" stroke="#de20ea" stroke-width="2" fill="none"/>
<path d="M61.2 453.1L62.9 455.5L64.6 457.2L66.3 457.3L68 455.1L69.7 457L71.4 455.7L73.1 453.7L74.8 452.4L76.5 453.8L78.2 451.1L79.9 449L81.6 449.3L83.3 448.7L85 448.1L86.7 446.8L88.4 446.1L90.1 443.9L91.8 443.5L93.5 441.9L95.2 439.6L96.9 441.1L98.6 439.1L100.3 441.1L102 440.6L103.7 441.1L105.4 438.8L107.1 440.2L108.8 437.6L110.5 438.1L112.2 437.8L113.9 439.3L115.6 437.9L117.3 441L119 439.5L120.7 443.2L122.4 441.7L124.1 443.9L125.8 443.7L127.5 447L129.2 446.8L130.9 449.5L132.6 449.7L134.3 452L136 451.2L137.7 454.1L139.4 454L141.1 456.6L142.8 456.1L144.5 458.7L146.2 459.5L147.9 461.6L149.6 460.8L151.3 463.5L153 464.6L154.7 463.3L156.4 463.7L158.1 465.4L159.8 463L161.5 465L163.2 462.5L164.9 463.9L166.6 461L168.3 461.5L170 458.6L171.7 458.6L173.4 455.9L175.1 455.7L176.8 454.2L178.5 452.5L180.2 450L181.9 449.6L183.6 446.1L185.3 446.7L187 443.9L188.7 445L190.4 444L192.1 444.3L193.8 443.7L195.5 442.8L197.2 443.6L198.9 441.3L200.6 441.4L202.3 444.2L204 443.5L205.7 445L207.4 444.7L209.1 446.7L210.8 448.4L212.5 451.1L214.2 450.7L215.9 454.3L217.6 454L219.3 457.3L221 458.2L222.7 457.3L224.4 460.5L226.1 461.8L227.8 461.9L229.5 464.6L231.2 463.4L232.9 467.4L234.6 466.2L236.3 468.7L238 467.9L239.7 469.6L241.4 468.3L243.1 470.1L244.8 469.2L246.5 470.7L248.2 468.5L249.9 469.9L251.6 468.3L253.3 468.1L255 466.5L256.7 468L258.4 468.1L260.1 464.8L261.8 464.4L263.5 464.6L265.2 462.1L266.9 462.8L268.6 462.1L270.3 460.7L272 459.4L273.7 458.9L275.4 455.8L277.1 455.9L278.8 457.7L280.5 455.6L282.2 458.5L283.9 457.8L285.6 457.7L287.3 459.1L289 460.7L290.7 462.7L292.4 464.6L294.1 462.8L295.8 464.5L297.5 468.1L299.2 468.1L300.9 470.5L302.6 470.9L304.3 473.5L306 472.5L307.7 473.2L309.4 473.1L311.1 474.7L312.8 472.4L314.5 472.2L316.2 471.4" stroke="#2626d6" stroke-width="1.3" fill="none" stroke-linejoin="round"/>
<path d="M60.2 453.1h2M63.6 457.2h2M67 455.1h2M70.4 455.7h2M73.8 452.4h2M77.2 451.1h2M80.6 449.3h2M84 448.1h2M87.4 446.1h2M90.8 443.5h2M94.2 439.6h2M97.6 439.1h2M101 440.6h2M104.4 438.8h2M107.8 437.6h2M111.2 437.8h2M114.6 437.9h2M118 439.5h2M121.4 441.7h2M124.8 443.7h2M128.2 446.8h2M131.6 449.7h2M135 451.2h2M138.4 454h2M141.8 456.1h2M145.2 459.5h2M148.6 460.8h2M152 464.6h2M155.4 463.7h2M158.8 463h2M162.2 462.5h2M165.6 461h2M169 458.6h2M172.4 455.9h2M175.8 454.2h2M179.2 450h2M182.6 446.1h2M186 443.9h2M189.4 444h2M192.8 443.7h2M196.2 443.6h2M199.6 441.4h2M203 443.5h2M206.4 444.7h2M209.8 448.4h2M213.2 450.7h2M216.6 454h2M220 458.2h2M223.4 460.5h2M226.8 461.9h2M230.2 463.4h2M233.6 466.2h2M237 467.9h2M240.4 468.3h2M243.8 469.2h2M247.2 468.5h2M250.6 468.3h2M254 466.5h2M257.4 468.1h2M260.8 464.4h2M264.2 462.1h2M267.6 462.1h2M271 459.4h2M274.4 455.8h2M277.8 457.7h2M281.2 458.5h2M284.6 457.7h2M288 460.7h2M291.4 464.6h2M294.8 464.5h2M298.2 468.1h2M301.6 470.9h2M305 472.5h2M308.4 473.1h2M311.8 472.4h2M315.2 471.4h2" stroke="#2626d6" stroke-width="2" fill="none"/>
<path d="M61.2 285.1L62.9 290.5L64.6 293.3L66.3 296.3L68 300.2L69.7 307.4L71.4 307.3L73.1 310.6L74.8 312.8L76.5 311.8L78.2 315.6L79.9 318.1L81.6 315.9L83.3 318L85 319.5L86.7 322.2L88.4 321.9L90.1 323.4L91.8 323.1L93.5 326.5L95.2 324.5L96.9 326.7L98.6 326L100.3 327.7L102 325.9L103.7 328.3L105.4 327.2L107.1 330L108.8 328.2L110.5 332.3L112.2 328.9L113.9 332.7L115.6 332.2L117.3 335.3L119 333.2L120.7 339.4L122.4 337.9L124.1 341.3L125.8 341L127.5 342.5L129.2 342.9L130.9 347.2L132.6 347.3L134.3 350.3L136 351.6L137.7 355.7L139.4 353.9L141.1 357.3L142.8 356.1L144.5 360.2L146.2 359.6L147.9 362L149.6 363.1L151.3 365.6L153 365.1L154.7 368.8L156.4 369.1L158.1 370.3L159.8 368.2L161.5 368.8L163.2 370.4L164.9 369.2L166.6 367.1L168.3 367.8L170 365.8L171.7 362.5L173.4 358L175.1 359.7L176.8 356.3L178.5 357.1L180.2 354.5L181.9 352.3L183.6 348.2L185.3 349.5L187 348.7L188.7 345.3L190.4 345.6L192.1 344.7L193.8 342.5L195.5 342.5L197.2 343.6L198.9 346.3L200.6 345.1L202.3 346.4L204 345.9L205.7 349.2L207.4 351.8L209.1 353.4L210.8 353.2L212.5 357.1L214.2 356.9L215.9 359.6L217.6 361.3L219.3 362.2L221 363.6L222.7 365.5L224.4 366.3L226.1 367.6L227.8 367.8L229.5 368.8L231.2 367.6L232.9 370L234.6 370.4L236.3 371.1L238 368.8L239.7 372.1L241.4 372.4L243.1 373.6L244.8 374.7L246.5 374.3L248.2 375.1L249.9 375.5L251.6 376L253.3 377.7L255 374.1L256.7 374.1L258.4 372.2L260.1 374.3L261.8 372.6L263.5 369.7L265.2 370.3L266.9 370.8L268.6 367.5L270.3 368.8L272 364.7L273.7 362.5L275.4 360.6L277.1 361.5L278.8 359L280.5 360.8L282.2 357.7L283.9 359.4L285.6 361.4L287.3 366.1L289 367.7L290.7 369.2L292.4 369.4L294.1 373L295.8 373.9L297.5 376.3L299.2 377.8L300.9 381.3L302.6 379.3L304.3 383.5L306 382.5L307.7 386.1L309.4 387.2L311.1 387.7L312.8 387.2L314.5 384.2L316.2 382" stroke="#e02424" stroke-width="1.3" fill="none" stroke-linejoin="round"/>
<path d="M60.2 285.1h2M63.6 293.3h2M67 300.2h2M70.4 307.3h2M73.8 312.8h2M77.2 315.6h2M80.6 315.9h2M84 319.5h2M87.4 321.9h2M90.8 323.1h2M94.2 324.5h2M97.6 326h2M101 325.9h2M104.4 327.2h2M107.8 328.2h2M111.2 328.9h2M114.6 332.2h2M118 333.2h2M121.4 337.9h2M124.8 341h2M128.2 342.9h2M131.6 347.3h2M135 351.6h2M138.4 353.9h2M141.8 356.1h2M145.2 359.6h2M148.6 363.1h2M152 365.1h2M155.4 369.1h2M158.8 368.2h2M162.2 370.4h2M165.6 367.1h2M169 365.8h2M172.4 358h2M175.8 356.3h2M179.2 354.5h2M182.6 348.2h2M186 348.7h2M189.4 345.6h2M192.8 342.5h2M196.2 343.6h2M199.6 345.1h2M203 345.9h2M206.4 351.8h2M209.8 353.2h2M213.2 356.9h2M216.6 361.3h2M220 363.6h2M223.4 366.3h2M226.8 367.8h2M230.2 367.6h2M233.6 370.4h2M237 368.8h2M240.4 372.4h2M243.8 374.7h2M247.2 375.1h2M250.6 376h2M254 374.1h2M257.4 372.2h2M260.8 372.6h2M264.2 370.3h2M267.6 367.5h2M271 364.7h2M274.4 360.6h2M277.8 359h2M281.2 357.7h2M284.6 361.4h2M288 367.7h2M291.4 369.4h2M294.8 373.9h2M298.2 377.8h2M301.6 379.3h2M305 382.5h2M308.4 387.2h2M311.8 387.2h2M315.2 382h2" stroke="#e02424" stroke-width="2" fill="none"/>
<path d="M187.4 285.2H209.7" stroke="#000000" stroke-width="1.8" opacity="0.42"/>
<circle cx="198.6" cy="285.2" r="1.2" fill="#000000" opacity="0.9"/>
<text x="213.9" y="289.6" font-size="12.5" text-anchor="start" textLength="83.2" lengthAdjust="spacingAndGlyphs">CNFs-800-20%</text>
<path d="M187.4 301.5H209.7" stroke="#e02424" stroke-width="1.8" opacity="0.42"/>
<circle cx="198.6" cy="301.5" r="1.2" fill="#e02424" opacity="0.9"/>
<text x="213.9" y="305.9" font-size="12.5" text-anchor="start" textLength="76.6" lengthAdjust="spacingAndGlyphs">CA2-800-20%</text>
<path d="M187.4 317.4H209.7" stroke="#2626d6" stroke-width="1.8" opacity="0.42"/>
<circle cx="198.6" cy="317.4" r="1.2" fill="#2626d6" opacity="0.9"/>
<text x="213.9" y="321.8" font-size="12.5" text-anchor="start" textLength="76.6" lengthAdjust="spacingAndGlyphs">CA3-800-20%</text>
<path d="M187.4 332.7H209.7" stroke="#de20ea" stroke-width="1.8" opacity="0.42"/>
<circle cx="198.6" cy="332.7" r="1.2" fill="#de20ea" opacity="0.9"/>
<text x="213.9" y="337.1" font-size="12.5" text-anchor="start" textLength="76.6" lengthAdjust="spacingAndGlyphs">CA4-800-20%</text>
<rect x="395.2" y="272" width="257.2" height="213.5" fill="none" stroke="#000" stroke-width="1.7"/>
<path d="M395.2 485.5v4.6M427.3 485.5v4.6M459.5 485.5v4.6M491.6 485.5v4.6M523.8 485.5v4.6M556 485.5v4.6M588.1 485.5v4.6M620.2 485.5v4.6M652.4 485.5v4.6M411.3 485.5v2.6M443.4 485.5v2.6M475.6 485.5v2.6M507.7 485.5v2.6M539.9 485.5v2.6M572 485.5v2.6M604.2 485.5v2.6M636.3 485.5v2.6M395.2 485.5h-4.6M395.2 442.8h-4.6M395.2 400.1h-4.6M395.2 357.4h-4.6M395.2 314.7h-4.6M395.2 272h-4.6M395.2 464.1h-2.6M395.2 421.4h-2.6M395.2 378.8h-2.6M395.2 336h-2.6M395.2 293.4h-2.6" stroke="#000" stroke-width="1.6" fill="none"/>
<text transform="translate(387.5,489) scale(1,1.15)" font-size="13" text-anchor="end" >-0.02</text>
<text transform="translate(387.5,446.3) scale(1,1.15)" font-size="13" text-anchor="end" >-0.01</text>
<text transform="translate(387.5,403.6) scale(1,1.15)" font-size="13" text-anchor="end" >0.00</text>
<text transform="translate(387.5,360.9) scale(1,1.15)" font-size="13" text-anchor="end" >0.01</text>
<text transform="translate(387.5,318.2) scale(1,1.15)" font-size="13" text-anchor="end" >0.02</text>
<text transform="translate(387.5,275.5) scale(1,1.15)" font-size="13" text-anchor="end" >0.03</text>
<text transform="translate(395.2,503.3) scale(1,1.15)" font-size="13" text-anchor="middle" >2</text>
<text transform="translate(427.3,503.3) scale(1,1.15)" font-size="13" text-anchor="middle" >4</text>
<text transform="translate(459.5,503.3) scale(1,1.15)" font-size="13" text-anchor="middle" >6</text>
<text transform="translate(491.6,503.3) scale(1,1.15)" font-size="13" text-anchor="middle" >8</text>
<text transform="translate(523.8,503.3) scale(1,1.15)" font-size="13" text-anchor="middle" >10</text>
<text transform="translate(556,503.3) scale(1,1.15)" font-size="13" text-anchor="middle" >12</text>
<text transform="translate(588.1,503.3) scale(1,1.15)" font-size="13" text-anchor="middle" >14</text>
<text transform="translate(620.2,503.3) scale(1,1.15)" font-size="13" text-anchor="middle" >16</text>
<text transform="translate(652.4,503.3) scale(1,1.15)" font-size="13" text-anchor="middle" >18</text>
<text x="530.4" y="518.5" font-size="14.5" text-anchor="middle" textLength="111.5" lengthAdjust="spacing">Frequency (GHz)</text>
<text transform="translate(357.7,377.9) rotate(-90)" x="0" y="0" font-size="15.5" text-anchor="middle" textLength="206.5" lengthAdjust="spacingAndGlyphs">Imaginary part of permeability</text>
<text x="323.4" y="271.2" font-size="23.8" text-anchor="start" textLength="30.6" lengthAdjust="spacingAndGlyphs" class="big">(d)</text>
<path d="M396.4 389.1L398.3 392.7L400.2 395.9L402.1 402.5L404 405L405.9 406.8L407.8 408.1L409.7 409.2L411.6 408.3L413.5 411.8L415.4 410.9L417.3 414.9L419.2 414.4L421.1 417.2L423 419.3L424.9 418L426.8 414.2L428.7 412L430.6 409.3L432.5 406.4L434.4 406.2L436.3 403.6L438.2 397.8L440.1 397.1L442 391.6L443.9 391.6L445.8 385.8L447.7 382.8L449.6 379.7L451.5 378L453.4 376L455.3 375.6L457.2 372.4L459.1 371.3L461 367L462.9 366.4L464.8 364.5L466.7 365.3L468.6 363.6L470.5 366.3L472.4 368L474.3 373.7L476.2 375.4L478.1 382L480 386L481.9 387L483.8 387.8L485.7 392.3L487.6 395.3L489.5 398.1L491.4 401L493.3 404.9L495.2 406.7L497.1 411.8L499 414.6L500.9 418.5L502.8 422.9L504.7 425.1L506.6 427L508.5 431.2L510.4 431.6L512.3 433.1L514.2 433.9L516.1 436.7L518 433.1L519.9 433.6L521.8 429.5L523.7 428.9L525.6 422.6L527.5 418.7L529.4 411.9L531.3 408.4L533.2 400.8L535.1 399.5L537 394.9L538.9 392.6L540.8 391.7L542.7 388.7L544.6 388.7L546.5 382.9L548.4 381L550.3 381.5L552.2 379.3L554.1 378.4L556 376.9L557.9 377.5L559.8 379.7L561.7 383L563.6 384.5L565.5 390.3L567.4 391.2L569.3 396.4L571.2 398L573.1 406L575 407.3L576.9 410.1L578.8 417.2L580.7 417.7L582.6 422.4L584.5 428.2L586.4 433.8L588.3 437.9L590.2 439.8L592.1 442.6L594 444.3L595.9 446.8L597.8 444.4L599.7 446L601.6 439.8L603.5 439.4L605.4 435L607.3 434.4L609.2 427.6L611.1 427.8L613 424.8L614.9 420L616.8 420L618.7 417.1L620.6 414.8L622.5 414.1L624.4 411.5L626.3 411.1L628.2 411.4L630.1 415.8L632 414.5L633.9 417.8L635.8 419.3L637.7 422.8L639.6 421.5L641.5 425.3L643.4 429.3L645.3 431.4L647.2 439.5L649.1 450.4L651 463.3" stroke="#2626d6" stroke-width="1.2" fill="none" stroke-linejoin="round"/>
<path d="M395.3 389.1h2.2M399.1 395.9h2.2M402.9 405h2.2M406.7 408.1h2.2M410.5 408.3h2.2M414.3 410.9h2.2M418.1 414.4h2.2M421.9 419.3h2.2M425.7 414.2h2.2M429.5 409.3h2.2M433.3 406.2h2.2M437.1 397.8h2.2M440.9 391.6h2.2M444.7 385.8h2.2M448.5 379.7h2.2M452.3 376h2.2M456.1 372.4h2.2M459.9 367h2.2M463.7 364.5h2.2M467.5 363.6h2.2M471.3 368h2.2M475.1 375.4h2.2M478.9 386h2.2M482.7 387.8h2.2M486.5 395.3h2.2M490.3 401h2.2M494.1 406.7h2.2M497.9 414.6h2.2M501.7 422.9h2.2M505.5 427h2.2M509.3 431.6h2.2M513.1 433.9h2.2M516.9 433.1h2.2M520.7 429.5h2.2M524.5 422.6h2.2M528.3 411.9h2.2M532.1 400.8h2.2M535.9 394.9h2.2M539.7 391.7h2.2M543.5 388.7h2.2M547.3 381h2.2M551.1 379.3h2.2M554.9 376.9h2.2M558.7 379.7h2.2M562.5 384.5h2.2M566.3 391.2h2.2M570.1 398h2.2M573.9 407.3h2.2M577.7 417.2h2.2M581.5 422.4h2.2M585.3 433.8h2.2M589.1 439.8h2.2M592.9 444.3h2.2M596.7 444.4h2.2M600.5 439.8h2.2M604.3 435h2.2M608.1 427.6h2.2M611.9 424.8h2.2M615.7 420h2.2M619.5 414.8h2.2M623.3 411.5h2.2M627.1 411.4h2.2M630.9 414.5h2.2M634.7 419.3h2.2M638.5 421.5h2.2M642.3 429.3h2.2M646.1 439.5h2.2M649.9 463.3h2.2" stroke="#2626d6" stroke-width="2.2" fill="none"/>
<path d="M396.4 386.5L398.3 392.4L400.2 396L402.1 406.2L404 414.5L405.9 417.9L407.8 421.1L409.7 421.3L411.6 418.7L413.5 417.7L415.4 413.4L417.3 416.4L419.2 414.6L421.1 418.2L423 413.7L424.9 415.4L426.8 413L428.7 410.5L430.6 401.4L432.5 399.1L434.4 395.3L436.3 391.4L438.2 385.7L440.1 385.2L442 380.3L443.9 381.9L445.8 374L447.7 372.2L449.6 366.5L451.5 366.2L453.4 359.9L455.3 362.2L457.2 356.2L459.1 357.5L461 357.6L462.9 357.5L464.8 356.8L466.7 357.2L468.6 355L470.5 359.8L472.4 359L474.3 364.1L476.2 364.1L478.1 367.6L480 369.2L481.9 376.1L483.8 375.5L485.7 383.1L487.6 385L489.5 391.2L491.4 395.4L493.3 398.3L495.2 402.2L497.1 404.5L499 409.5L500.9 410.8L502.8 415.1L504.7 420.7L506.6 422.4L508.5 428.6L510.4 431L512.3 435.5L514.2 433.1L516.1 436L518 430.9L519.9 433.4L521.8 427.3L523.7 426.5L525.6 419.2L527.5 418.5L529.4 414.6L531.3 410.7L533.2 404.6L535.1 401.4L537 396.8L538.9 392.5L540.8 387.8L542.7 383.7L544.6 377L546.5 376.4L548.4 374.2L550.3 372.1L552.2 367.9L554.1 370.1L556 366.5L557.9 370.3L559.8 368.9L561.7 374.3L563.6 374.8L565.5 382.5L567.4 381.9L569.3 391.1L571.2 396L573.1 397.9L575 405.5L576.9 411.2L578.8 417.9L580.7 423.8L582.6 428.2L584.5 432.7L586.4 434.6L588.3 438.9L590.2 441.5L592.1 442.5L594 445.6L595.9 450.7L597.8 449.8L599.7 451.6L601.6 452.2L603.5 447.6L605.4 445.7L607.3 445L609.2 436.7L611.1 434.2L613 427.3L614.9 427L616.8 420.7L618.7 420.6L620.6 414.4L622.5 415L624.4 411.9L626.3 413.6L628.2 415.8L630.1 416.6L632 415.4L633.9 415.2L635.8 415.2L637.7 417.3L639.6 416.8L641.5 425.2L643.4 428.9L645.3 435.4L647.2 439.2L649.1 449L651 455.7" stroke="#de20ea" stroke-width="1.2" fill="none" stroke-linejoin="round"/>
<path d="M395.3 386.5h2.2M399.1 396h2.2M402.9 414.5h2.2M406.7 421.1h2.2M410.5 418.7h2.2M414.3 413.4h2.2M418.1 414.6h2.2M421.9 413.7h2.2M425.7 413h2.2M429.5 401.4h2.2M433.3 395.3h2.2M437.1 385.7h2.2M440.9 380.3h2.2M444.7 374h2.2M448.5 366.5h2.2M452.3 359.9h2.2M456.1 356.2h2.2M459.9 357.6h2.2M463.7 356.8h2.2M467.5 355h2.2M471.3 359h2.2M475.1 364.1h2.2M478.9 369.2h2.2M482.7 375.5h2.2M486.5 385h2.2M490.3 395.4h2.2M494.1 402.2h2.2M497.9 409.5h2.2M501.7 415.1h2.2M505.5 422.4h2.2M509.3 431h2.2M513.1 433.1h2.2M516.9 430.9h2.2M520.7 427.3h2.2M524.5 419.2h2.2M528.3 414.6h2.2M532.1 404.6h2.2M535.9 396.8h2.2M539.7 387.8h2.2M543.5 377h2.2M547.3 374.2h2.2M551.1 367.9h2.2M554.9 366.5h2.2M558.7 368.9h2.2M562.5 374.8h2.2M566.3 381.9h2.2M570.1 396h2.2M573.9 405.5h2.2M577.7 417.9h2.2M581.5 428.2h2.2M585.3 434.6h2.2M589.1 441.5h2.2M592.9 445.6h2.2M596.7 449.8h2.2M600.5 452.2h2.2M604.3 445.7h2.2M608.1 436.7h2.2M611.9 427.3h2.2M615.7 420.7h2.2M619.5 414.4h2.2M623.3 411.9h2.2M627.1 415.8h2.2M630.9 415.4h2.2M634.7 415.2h2.2M638.5 416.8h2.2M642.3 428.9h2.2M646.1 439.2h2.2M649.9 455.7h2.2" stroke="#de20ea" stroke-width="2.2" fill="none"/>
<path d="M396.4 352.2L398.3 353.1L400.2 364.6L402.1 375.3L404 380.1L405.9 388L407.8 394.8L409.7 399.4L411.6 399.7L413.5 403.9L415.4 400.3L417.3 404.1L419.2 406.2L421.1 408.3L423 405.6L424.9 408.5L426.8 403.7L428.7 404.4L430.6 397.5L432.5 397.3L434.4 395.4L436.3 390.2L438.2 386.9L440.1 385.7L442 381.1L443.9 380.4L445.8 376.8L447.7 374.6L449.6 366.6L451.5 365.9L453.4 362L455.3 361.1L457.2 357.4L459.1 359.6L461 355.1L462.9 359L464.8 355.9L466.7 360.7L468.6 359.4L470.5 363L472.4 360.7L474.3 364.7L476.2 364.2L478.1 365L480 370.2L481.9 372.9L483.8 377.3L485.7 380.5L487.6 385.6L489.5 386.9L491.4 389.7L493.3 396.5L495.2 398.6L497.1 404.7L499 406.5L500.9 412.3L502.8 412.5L504.7 418.5L506.6 420.1L508.5 422L510.4 425.3L512.3 426.1L514.2 427.9L516.1 423.5L518 421.2L519.9 421.2L521.8 417L523.7 415.1L525.6 411.1L527.5 408.9L529.4 402.1L531.3 399.4L533.2 391.8L535.1 388.9L537 383.4L538.9 380.5L540.8 373.6L542.7 370.8L544.6 364.2L546.5 360L548.4 357.7L550.3 358.6L552.2 357L554.1 359.5L556 357.5L557.9 357.5L559.8 362.6L561.7 364.4L563.6 367.5L565.5 372.7L567.4 373.8L569.3 381.4L571.2 385.9L573.1 393.2L575 396.1L576.9 399.4L578.8 406.1L580.7 411.9L582.6 416.7L584.5 418.8L586.4 420.7L588.3 425.6L590.2 426.6L592.1 431.6L594 434.7L595.9 436.7L597.8 435.9L599.7 438.1L601.6 435.1L603.5 435.5L605.4 433.7L607.3 429.4L609.2 422.6L611.1 420.9L613 416.1L614.9 413.9L616.8 407L618.7 405.2L620.6 401.5L622.5 402.2L624.4 399.1L626.3 401.1L628.2 402.2L630.1 400.3L632 399.2L633.9 400.1L635.8 400.5L637.7 403.3L639.6 407.1L641.5 415.1L643.4 419.9L645.3 426.7L647.2 434.4L649.1 441.6L651 449.7" stroke="#000000" stroke-width="1.0" fill="none" stroke-linejoin="round"/>
<path d="M395.4 352.2h2M399.2 364.6h2M403 380.1h2M406.8 394.8h2M410.6 399.7h2M414.4 400.3h2M418.2 406.2h2M422 405.6h2M425.8 403.7h2M429.6 397.5h2M433.4 395.4h2M437.2 386.9h2M441 381.1h2M444.8 376.8h2M448.6 366.6h2M452.4 362h2M456.2 357.4h2M460 355.1h2M463.8 355.9h2M467.6 359.4h2M471.4 360.7h2M475.2 364.2h2M479 370.2h2M482.8 377.3h2M486.6 385.6h2M490.4 389.7h2M494.2 398.6h2M498 406.5h2M501.8 412.5h2M505.6 420.1h2M509.4 425.3h2M513.2 427.9h2M517 421.2h2M520.8 417h2M524.6 411.1h2M528.4 402.1h2M532.2 391.8h2M536 383.4h2M539.8 373.6h2M543.6 364.2h2M547.4 357.7h2M551.2 357h2M555 357.5h2M558.8 362.6h2M562.6 367.5h2M566.4 373.8h2M570.2 385.9h2M574 396.1h2M577.8 406.1h2M581.6 416.7h2M585.4 420.7h2M589.2 426.6h2M593 434.7h2M596.8 435.9h2M600.6 435.1h2M604.4 433.7h2M608.2 422.6h2M612 416.1h2M615.8 407h2M619.6 401.5h2M623.4 399.1h2M627.2 402.2h2M631 399.2h2M634.8 400.5h2M638.6 407.1h2M642.4 419.9h2M646.2 434.4h2M650 449.7h2" stroke="#000000" stroke-width="2" fill="none"/>
<path d="M396 285.1L397.8 293.6L399.6 305.2L401.4 314.9L403.2 323.2L405 335.3L406.8 334L408.6 345.2L410.4 349.9L412.2 347.9L414 351.2L415.8 360.9L417.6 356.7L419.4 364.6L421.2 363L423 372.2L424.8 372.8L426.6 374L428.4 368.6L430.2 372.8L432 365.8L433.8 366.5L435.6 367.1L437.4 364.5L439.2 361.6L441 362.8L442.8 356.5L444.6 358.1L446.4 354.1L448.2 353.3L450 347.4L451.8 349.3L453.6 342.9L455.4 345.1L457.2 339.1L459 341.6L460.8 339L462.6 340.1L464.4 342.2L466.2 344.6L468 340.8L469.8 344.9L471.6 344.9L473.4 349.5L475.2 351.5L477 359.4L478.8 361.8L480.6 367.7L482.4 368.6L484.2 376.1L486 377.5L487.8 381L489.6 385.2L491.4 391.9L493.2 396.3L495 400L496.8 400.2L498.6 408.1L500.4 408.2L502.2 414.9L504 414L505.8 420.5L507.6 420.6L509.4 423.6L511.2 423.6L513 426L514.8 423.6L516.6 425.5L518.4 420.4L520.2 420.6L522 418.8L523.8 416.1L525.6 410.6L527.4 410.3L529.2 403.1L531 401.6L532.8 395.3L534.6 394.8L536.4 390.9L538.2 383.5L540 372.2L541.8 372.8L543.6 368.3L545.4 369.9L547.2 364.3L549 368.1L550.8 364L552.6 365.4L554.4 361.7L556.2 364.1L558 359.4L559.8 365.2L561.6 367.7L563.4 369.5L565.2 369L567 374.5L568.8 380.1L570.6 383.8L572.4 382.9L574.2 392.7L576 396.1L577.8 396.3L579.6 402.1L581.4 409.3L583.2 408.1L585 408.4L586.8 414.6L588.6 411.7L590.4 413.2L592.2 420.3L594 420L595.8 425.3L597.6 427.9L599.4 426.9L601.2 423.9L603 423.5L604.8 411.2L606.6 406.2L608.4 396.6L610.2 399.1L612 391.8L613.8 396.1L615.6 392.2L617.4 395.5L619.2 390.9L621 386.1L622.8 378.4L624.6 377.2L626.4 372.2L628.2 371.8L630 370.7L631.8 373.4L633.6 370.6L635.4 375.1L637.2 377.3L639 378.4L640.8 380.9L642.6 391.1L644.4 392.3L646.2 400.5L648 402.2L649.8 413.8" stroke="#e02424" stroke-width="1.2" fill="none" stroke-linejoin="round"/>
<path d="M394.9 285.1h2.2M398.5 305.2h2.2M402.1 323.2h2.2M405.7 334h2.2M409.3 349.9h2.2M412.9 351.2h2.2M416.5 356.7h2.2M420.1 363h2.2M423.7 372.8h2.2M427.3 368.6h2.2M430.9 365.8h2.2M434.5 367.1h2.2M438.1 361.6h2.2M441.7 356.5h2.2M445.3 354.1h2.2M448.9 347.4h2.2M452.5 342.9h2.2M456.1 339.1h2.2M459.7 339h2.2M463.3 342.2h2.2M466.9 340.8h2.2M470.5 344.9h2.2M474.1 351.5h2.2M477.7 361.8h2.2M481.3 368.6h2.2M484.9 377.5h2.2M488.5 385.2h2.2M492.1 396.3h2.2M495.7 400.2h2.2M499.3 408.2h2.2M502.9 414h2.2M506.5 420.6h2.2M510.1 423.6h2.2M513.7 423.6h2.2M517.3 420.4h2.2M520.9 418.8h2.2M524.5 410.6h2.2M528.1 403.1h2.2M531.7 395.3h2.2M535.3 390.9h2.2M538.9 372.2h2.2M542.5 368.3h2.2M546.1 364.3h2.2M549.7 364h2.2M553.3 361.7h2.2M556.9 359.4h2.2M560.5 367.7h2.2M564.1 369h2.2M567.7 380.1h2.2M571.3 382.9h2.2M574.9 396.1h2.2M578.5 402.1h2.2M582.1 408.1h2.2M585.7 414.6h2.2M589.3 413.2h2.2M592.9 420h2.2M596.5 427.9h2.2M600.1 423.9h2.2M603.7 411.2h2.2M607.3 396.6h2.2M610.9 391.8h2.2M614.5 392.2h2.2M618.1 390.9h2.2M621.7 378.4h2.2M625.3 372.2h2.2M628.9 370.7h2.2M632.5 370.6h2.2M636.1 377.3h2.2M639.7 380.9h2.2M643.3 392.3h2.2M646.9 402.2h2.2" stroke="#e02424" stroke-width="2.2" fill="none"/>
<path d="M623 397L624.4 408L625.7 396L628.4 402L631 398L633 376L633.7 361.4L635 390L637 400.8" stroke="#000000" stroke-width="1.1" fill="none" stroke-linejoin="round"/>
<path d="M632 361.4h3.4M633.7 358v4" stroke="#000000" stroke-width="1.1" fill="none"/>
<path d="M523.9 289.8H546.8" stroke="#000000" stroke-width="1.8" opacity="0.42"/>
<circle cx="535.3" cy="289.8" r="1.2" fill="#000000" opacity="0.9"/>
<text x="551" y="294.2" font-size="11.6" text-anchor="start" textLength="76.4" lengthAdjust="spacingAndGlyphs">CNFs-800-20%</text>
<path d="M523.9 304.7H546.8" stroke="#e02424" stroke-width="1.8" opacity="0.42"/>
<circle cx="535.3" cy="304.7" r="1.2" fill="#e02424" opacity="0.9"/>
<text x="551" y="309.1" font-size="11.6" text-anchor="start" textLength="70.3" lengthAdjust="spacingAndGlyphs">CA2-800-20%</text>
<path d="M523.9 320H546.8" stroke="#2626d6" stroke-width="1.8" opacity="0.42"/>
<circle cx="535.3" cy="320" r="1.2" fill="#2626d6" opacity="0.9"/>
<text x="551" y="324.4" font-size="11.6" text-anchor="start" textLength="70.3" lengthAdjust="spacingAndGlyphs">CA3-800-20%</text>
<path d="M523.9 335H546.8" stroke="#de20ea" stroke-width="1.8" opacity="0.42"/>
<circle cx="535.3" cy="335" r="1.2" fill="#de20ea" opacity="0.9"/>
<text x="551" y="339.4" font-size="11.6" text-anchor="start" textLength="70.3" lengthAdjust="spacingAndGlyphs">CA4-800-20%</text>
</svg></body></html>
